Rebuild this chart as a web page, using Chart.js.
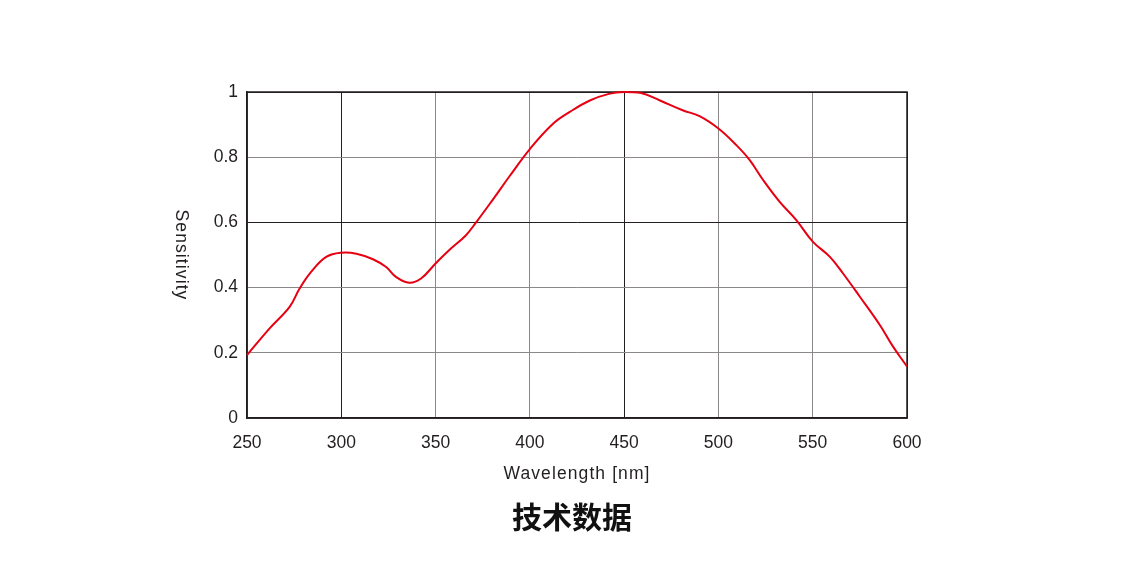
<!DOCTYPE html>
<html>
<head>
<meta charset="utf-8">
<script src="https://cdn.jsdelivr.net/npm/chart.js@4"></script>
<style>
  html, body { margin:0; padding:0; background:#fff; }
  #wrap { width:1122px; height:561px; position:relative; }
</style>
</head>
<body>
<div id="wrap"><canvas id="c"></canvas></div>
<script>
const wavelengths = [250, 262, 272.6, 277.9, 284, 292, 300, 308, 316.8, 323.8, 329, 336, 342.3, 350, 357, 366, 371.6, 380, 389.4, 400, 412, 421.2, 431.8, 442.4, 450, 459, 469, 481, 490, 500, 509.5, 516.6, 523.7, 532.5, 541.3, 550, 559, 566, 575, 585.5, 592.6, 600];
const sensitivity = [0.193, 0.275, 0.341, 0.397, 0.448, 0.494, 0.507, 0.504, 0.487, 0.463, 0.433, 0.415, 0.428, 0.474, 0.514, 0.560, 0.601, 0.667, 0.743, 0.825, 0.901, 0.939, 0.974, 0.995, 1.0, 0.997, 0.974, 0.944, 0.926, 0.888, 0.837, 0.791, 0.730, 0.663, 0.607, 0.541, 0.495, 0.444, 0.372, 0.286, 0.219, 0.158];
const xTickValues = [250, 300, 350, 400, 450, 500, 550, 600];
const yTickValues = [0, 0.2, 0.4, 0.6, 0.8, 1];
const xTitle = 'Wavelength [nm]';
const yTitle = 'Sensitivity';
const chartTitle = '技术数据';

const points = wavelengths.map((x, i) => ({x: x, y: sensitivity[i]}));
const FONT = '"Liberation Sans", Arial, sans-serif';
const DARK = '#231f20';
const GRAY = '#8c8888';

const frame = {
  id: 'frame',
  beforeDatasetsDraw(chart) {
    const {ctx, chartArea: a} = chart;
    ctx.save();
    ctx.strokeStyle = DARK;
    ctx.lineWidth = 1.5;
    ctx.strokeRect(a.left, a.top, a.right - a.left, a.bottom - a.top);
    ctx.restore();
  },
  afterDraw(chart) {
    const {ctx, chartArea: a} = chart;
    const cx = (a.left + a.right) / 2;
    ctx.save();
    ctx.fillStyle = DARK;
    ctx.font = '17.5px ' + FONT;
    ctx.textAlign = 'center';
    ctx.textBaseline = 'middle';
    if ('letterSpacing' in ctx) ctx.letterSpacing = '1.1px';
    ctx.fillText(xTitle, cx, 474);
    ctx.save();
    ctx.translate(181, (a.top + a.bottom) / 2);
    ctx.rotate(Math.PI / 2);
    ctx.fillText(yTitle, 0, 0);
    ctx.restore();
    if ('letterSpacing' in ctx) ctx.letterSpacing = '0px';
    ctx.fillStyle = '#111';
    ctx.font = 'bold 30px "Noto Sans CJK SC", sans-serif';
    ctx.fillText(chartTitle, 572, 517);
    ctx.restore();
  }
};

new Chart(document.getElementById('c'), {
  type: 'line',
  data: {
    datasets: [{
      data: points,
      borderColor: '#e60012',
      borderWidth: 2,
      pointRadius: 0,
      fill: false,
      tension: 0.4,
      clip: false
    }]
  },
  options: {
    responsive: true,
    maintainAspectRatio: false,
    animation: false,
    layout: { padding: { left: 0, right: 215, top: 92, bottom: 93 } },
    plugins: {
      legend: { display: false },
      tooltip: { enabled: false },
      title: { display: false }
    },
    scales: {
      x: {
        type: 'linear',
        min: xTickValues[0], max: xTickValues[xTickValues.length - 1],
        afterFit(scale) { scale.height = 50; },
        afterBuildTicks(scale) { scale.ticks = xTickValues.map(v => ({value: v})); },
        ticks: { color: DARK, font: { family: FONT, size: 17.5 }, padding: 15, maxRotation: 0 },
        grid: {
          drawTicks: false,
          lineWidth: 1,
          color: ctx => (ctx.tick && (ctx.tick.value === 300 || ctx.tick.value === 450 || ctx.tick.value === 600)) ? DARK : GRAY
        },
        border: { color: DARK, width: 1.5 }
      },
      y: {
        min: yTickValues[0], max: yTickValues[yTickValues.length - 1],
        afterFit(scale) { scale.width = 247; },
        afterBuildTicks(scale) { scale.ticks = yTickValues.map(v => ({value: v})); },
        ticks: { color: DARK, font: { family: FONT, size: 17.5 }, padding: 9,
          callback: v => String(+Number(v).toFixed(1)) },
        grid: {
          drawTicks: false,
          lineWidth: 1,
          color: ctx => (ctx.tick && (Math.abs(ctx.tick.value - 0.6) < 1e-6 || ctx.tick.value === 1)) ? DARK : GRAY
        },
        border: { color: DARK, width: 1.5 }
      }
    }
  },
  plugins: [frame]
});
</script>
</body>
</html>
